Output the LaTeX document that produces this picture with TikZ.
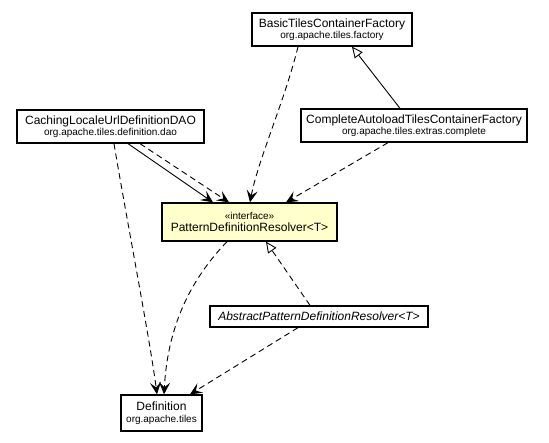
\documentclass[tikz,border=0pt]{standalone}
\usepackage{fontspec}
\setmainfont{Liberation Sans}
\usetikzlibrary{arrows.meta}
\definecolor{ifill}{HTML}{FFFFCC}
\tikzset{
  cls/.style={draw=black, line width=1.3pt, fill=white, rectangle, inner sep=0pt, align=center},
  mainf/.style={font=\fontsize{12}{13}\selectfont},
  dep/.style={line width=0.9pt, dash pattern=on 6pt off 4pt, -{Stealth[length=12pt,width=11pt,inset=5pt]}},
  assoc/.style={line width=0.9pt, -{Stealth[length=12pt,width=11pt,inset=5pt]}},
  gen/.style={line width=0.9pt, -{Triangle[open,length=11pt,width=10pt,fill=white]}},
  real/.style={line width=0.9pt, dash pattern=on 6pt off 4pt, -{Triangle[open,length=11pt,width=10pt,fill=white]}},
}
\newcommand{\pkg}[1]{{\fontsize{10}{11}\selectfont #1}}
\begin{document}
\begin{tikzpicture}[x=1pt,y=-1pt]
\useasboundingbox (0,0) rectangle (549,443);
\fill[white] (0,0) rectangle (549,443);

\node[cls, mainf, minimum width=160pt, minimum height=33pt] (basic) at (332,29.5)
  {BasicTilesContainerFactory\\[-1.5pt]\pkg{org.apache.tiles.factory}};
\node[cls, mainf, minimum width=187pt, minimum height=33pt] (caching) at (110.5,126.5)
  {CachingLocaleUrlDefinitionDAO\\[-1.5pt]\pkg{org.apache.tiles.definition.dao}};
\node[cls, mainf, minimum width=226pt, minimum height=33pt] (complete) at (414,125.5)
  {CompleteAutoloadTilesContainerFactory\\[-1.5pt]\pkg{org.apache.tiles.extras.complete}};
\node[cls, mainf, fill=ifill, minimum width=175pt, minimum height=38pt] (pattern) at (249.5,222)
  {\pkg{«interface»}\\[-1pt]PatternDefinitionResolver<T>};
\node[cls, mainf, minimum width=218pt, minimum height=21pt] (abstract) at (319,316.5)
  {\itshape AbstractPatternDefinitionResolver<T>};
\node[cls, mainf, minimum width=81pt, minimum height=36pt] (definition) at (161.5,413)
  {Definition\\[-1.5pt]\pkg{org.apache.tiles}};

% Basic -> Pattern
\draw[dep] (basic.south -| 298,0) .. controls (285,100) and (258,160) .. (pattern.north -| 250,0);
% Complete -> Basic (generalization)
\draw[gen] (complete.north -| 400,0) -- (basic.south -| 352,0);
% Complete -> Pattern
\draw[dep] (complete.south -| 388,0) -- (pattern.north -| 286,0);
% Caching -> Pattern (solid and dashed)
\draw[assoc] (caching.south -| 128,0) -- (pattern.north -| 213,0);
\draw[dep] (caching.south -| 140,0) -- (pattern.north -| 229,0);
% Caching -> Definition
\draw[dep] (caching.south -| 114,0) .. controls (125,210) and (150,340) .. (definition.north -| 157,0);
% Pattern -> Definition
\draw[dep] (pattern.south -| 227,0) .. controls (195,275) and (168,320) .. (definition.north -| 164,0);
% Abstract -> Pattern (realization)
\draw[real] (abstract.north -| 310,0) -- (pattern.south -| 266,0);
% Abstract -> Definition
\draw[dep] (abstract.south -| 298,0) -- (definition.north -| 190,0);
\end{tikzpicture}
\end{document}
